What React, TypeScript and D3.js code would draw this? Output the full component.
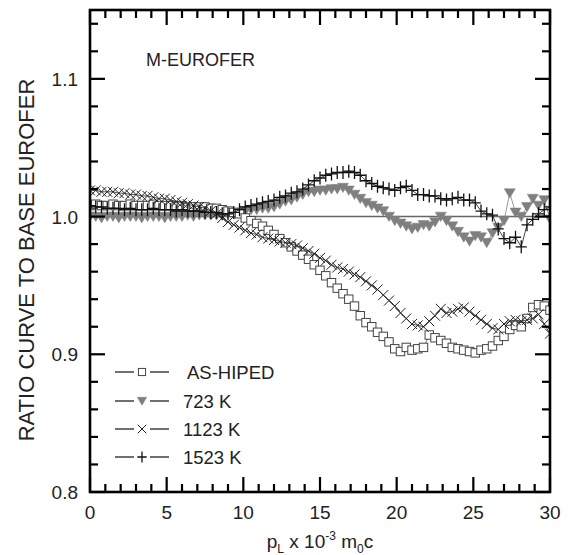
import React from "react";
import * as d3 from "d3";

// x positions step (p_L x 10^-3 m0c)
const X_STEP = 0.375;

const asHiped = [
  1.008, 1.009, 1.008, 1.008, 1.009, 1.008, 1.008, 1.009, 1.008, 1.008,
  1.008, 1.009, 1.008, 1.008, 1.008, 1.007, 1.008, 1.007, 1.007, 1.007,
  1.007, 1.006, 1.006, 1.005, 1.004, 1.003, 1.002, 0.999, 0.997, 0.995,
  0.993, 0.990, 0.987, 0.984, 0.981, 0.978, 0.975, 0.972, 0.969, 0.965,
  0.961, 0.957, 0.952, 0.948, 0.944, 0.940, 0.935, 0.928, 0.923, 0.920,
  0.916, 0.913, 0.909, 0.904, 0.902, 0.905, 0.903, 0.904, 0.905, 0.914,
  0.912, 0.910, 0.908, 0.905, 0.904, 0.903, 0.902, 0.901, 0.903, 0.904,
  0.906, 0.910, 0.913, 0.918, 0.921, 0.920, 0.926, 0.934, 0.936, 0.935,
  0.932,
];

const k723 = [
  1.000, 1.000, 0.999, 1.000, 1.000, 0.999, 1.000, 1.000, 1.000, 0.999,
  1.000, 1.000, 1.000, 0.999, 1.000, 1.000, 1.000, 1.001, 1.000, 1.001,
  1.001, 1.001, 1.001, 1.002, 1.002, 1.002, 1.003, 1.004, 1.005, 1.005,
  1.006, 1.006, 1.007, 1.009, 1.011, 1.012, 1.014, 1.016, 1.018, 1.018,
  1.019, 1.019, 1.020, 1.020, 1.021, 1.019, 1.016, 1.013, 1.010, 1.008,
  1.006, 1.004, 1.000, 0.997, 0.995, 0.993, 0.991, 0.992, 0.994, 0.993,
  0.996, 1.000, 0.997, 0.993, 0.989, 0.985, 0.982, 0.986, 0.985, 0.981,
  0.988, 0.992, 0.997, 1.017, 1.003, 1.000, 1.007, 1.013, 1.008, 1.012,
  0.998,
];

const k1123 = [
  1.019, 1.019, 1.018, 1.018, 1.018, 1.017, 1.017, 1.016, 1.016, 1.015,
  1.015, 1.014, 1.013, 1.013, 1.012, 1.011, 1.010, 1.009, 1.008, 1.007,
  1.006, 1.004, 1.002, 0.999, 0.996, 0.994, 0.992, 0.990, 0.988, 0.987,
  0.985, 0.984, 0.983, 0.982, 0.981, 0.980, 0.979, 0.977, 0.975, 0.973,
  0.970, 0.968, 0.965, 0.963, 0.962, 0.960, 0.958, 0.956, 0.953, 0.950,
  0.947, 0.943, 0.939, 0.935, 0.930, 0.926, 0.922, 0.921, 0.920, 0.924,
  0.928, 0.933, 0.930, 0.931, 0.933, 0.934, 0.931, 0.928, 0.925, 0.922,
  0.919, 0.918, 0.922, 0.924, 0.925, 0.924, 0.925, 0.926, 0.929, 0.922,
  0.915,
];

const k1523 = [
  1.008, 1.007, 1.007, 1.006, 1.006, 1.006, 1.005, 1.006, 1.005, 1.005,
  1.005, 1.006, 1.005, 1.005, 1.005, 1.004, 1.005, 1.004, 1.004, 1.004,
  1.003, 1.003, 1.003, 1.002, 1.002, 1.003, 1.005, 1.007, 1.008, 1.009,
  1.010, 1.011, 1.012, 1.014, 1.015, 1.017, 1.018, 1.020, 1.023, 1.026,
  1.028, 1.030, 1.031, 1.032, 1.032, 1.033, 1.032, 1.030, 1.026, 1.024,
  1.022, 1.021, 1.020, 1.019, 1.021, 1.022, 1.019, 1.016, 1.016, 1.015,
  1.015, 1.013, 1.012, 1.013, 1.014, 1.012, 1.012, 1.010, 1.004, 1.002,
  1.001, 0.991, 0.984, 0.981, 0.985, 0.978, 0.994, 0.998, 1.002, 1.005,
  1.007,
];

const xTicks = [0, 5, 10, 15, 20, 25, 30];
const yTicks = [0.8, 0.9, 1.0, 1.1];
const legendLabels = ["AS-HIPED", "723 K", "1123 K", "1523 K"];

const FONT = "'Liberation Sans', Arial, Helvetica, sans-serif";

type Pt = [number, number];

function Marker({ kind, x, y, s = 1 }: { kind: string; x: number; y: number; s?: number }) {
  if (kind === "square") {
    const h = 4.2 * s;
    return <rect x={x - h} y={y - h} width={2 * h} height={2 * h} fill="#fff" stroke="#444" strokeWidth={1} />;
  }
  if (kind === "tri") {
    const w = 5.5 * s;
    return (
      <path d={`M${x - w},${y - w * 0.8}L${x + w},${y - w * 0.8}L${x},${y + w * 0.9}Z`} fill="#7f7f7f" stroke="#7f7f7f" strokeWidth={0.5} />
    );
  }
  if (kind === "cross") {
    const h = 5 * s;
    return (
      <path d={`M${x - h},${y - h}L${x + h},${y + h}M${x - h},${y + h}L${x + h},${y - h}`} stroke="#222" strokeWidth={1} fill="none" />
    );
  }
  const h = 6.5 * s;
  const w = 5.5 * s;
  return <path d={`M${x},${y - h}L${x},${y + h}M${x - w},${y}L${x + w},${y}`} stroke="#111" strokeWidth={1.3} fill="none" />;
}

export default function App() {
  const W = 570;
  const H = 555;
  const left = 90;
  const right = 550;
  const top = 10;
  const bottom = 492;

  const x = d3.scaleLinear().domain([0, 30]).range([left, right]);
  const y = d3.scaleLinear().domain([0.8, 1.15]).range([bottom, top]);

  const toPts = (arr: number[]): Pt[] => arr.map((v, i) => [x(i * X_STEP), y(v)]);
  const line = d3.line<Pt>().x((d) => d[0]).y((d) => d[1]);

  const series = [
    { kind: "tri", data: k723, lineColor: "#7f7f7f" },
    { kind: "square", data: asHiped, lineColor: "#555" },
    { kind: "cross", data: k1123, lineColor: "#222" },
    { kind: "plus", data: k1523, lineColor: "#111" },
  ];

  const xMinor = d3.range(0, 31, 1);
  const yMinor = d3.range(0.8, 1.1501, 0.02);
  const legendKinds = ["square", "tri", "cross", "plus"];
  const legendY = [372, 401, 429, 457];

  return (
    <svg width={W} height={H} style={{ position: "absolute", left: 0, top: 0, background: "#fff" }} fontFamily={FONT}>
      <defs>
        <clipPath id="plot">
          <rect x={left} y={top} width={right - left} height={bottom - top} />
        </clipPath>
      </defs>
      <rect x={0} y={0} width={W} height={H} fill="#fff" />
      {/* reference line */}
      <line x1={left} x2={right} y1={y(1.0)} y2={y(1.0)} stroke="#666" strokeWidth={1.4} />
      <g clipPath="url(#plot)">
        {series.map((s, si) => {
          const pts = toPts(s.data);
          return (
            <g key={si}>
              <path d={line(pts) || ""} fill="none" stroke={s.lineColor} strokeWidth={0.8} />
              {pts.map((p, i) => (
                <Marker key={i} kind={s.kind} x={p[0]} y={p[1]} />
              ))}
            </g>
          );
        })}
      </g>
      {/* ticks */}
      {xMinor.map((v) => {
        const major = v % 5 === 0;
        const len = major ? 15 : 8;
        return (
          <g key={"xt" + v}>
            <line x1={x(v)} x2={x(v)} y1={bottom} y2={bottom - len} stroke="#000" strokeWidth={2.2} />
            <line x1={x(v)} x2={x(v)} y1={top} y2={top + len} stroke="#000" strokeWidth={2.2} />
          </g>
        );
      })}
      {yMinor.map((v, i) => {
        const major = i % 5 === 0;
        const len = major ? 15 : 8;
        return (
          <g key={"yt" + i}>
            <line x1={left} x2={left + len} y1={y(v)} y2={y(v)} stroke="#000" strokeWidth={2.2} />
            <line x1={right} x2={right - len} y1={y(v)} y2={y(v)} stroke="#000" strokeWidth={2.2} />
          </g>
        );
      })}
      <rect x={left} y={top} width={right - left} height={bottom - top} fill="none" stroke="#000" strokeWidth={2.6} />
      {/* tick labels */}
      {xTicks.map((v) => (
        <text key={"xl" + v} x={x(v)} y={bottom + 27} fontSize={19} textAnchor="middle" fill="#222">
          {v}
        </text>
      ))}
      {yTicks.map((v) => (
        <text key={"yl" + v} x={left - 12} y={y(v) + 7} fontSize={19} textAnchor="end" fill="#222">
          {v.toFixed(1)}
        </text>
      ))}
      {/* axis titles */}
      <text x={320} y={548} fontSize={19} textAnchor="middle" fill="#222">
        <tspan>p</tspan>
        <tspan fontSize={12} dy={5}>L</tspan>
        <tspan dy={-5}> x 10</tspan>
        <tspan fontSize={12} dy={-8}>-3</tspan>
        <tspan dy={8}> m</tspan>
        <tspan fontSize={12} dy={5}>0</tspan>
        <tspan dy={-5}>c</tspan>
      </text>
      <text transform={`translate(34,260) rotate(-90)`} fontSize={22} textAnchor="middle" fill="#222">
        RATIO CURVE TO BASE EUROFER
      </text>
      <text x={146} y={66} fontSize={18} fill="#222">M-EUROFER</text>
      {/* legend */}
      {legendLabels.map((lab, i) => (
        <g key={lab}>
          <line x1={115} x2={134} y1={legendY[i]} y2={legendY[i]} stroke="#222" strokeWidth={1.3} />
          <line x1={150} x2={169} y1={legendY[i]} y2={legendY[i]} stroke="#222" strokeWidth={1.3} />
          <Marker kind={legendKinds[i]} x={142} y={legendY[i]} s={0.85} />
          <text x={i === 0 ? 187 : 183} y={legendY[i] + 6.5} fontSize={18.5} fill="#222">
            {lab}
          </text>
        </g>
      ))}
    </svg>
  );
}
